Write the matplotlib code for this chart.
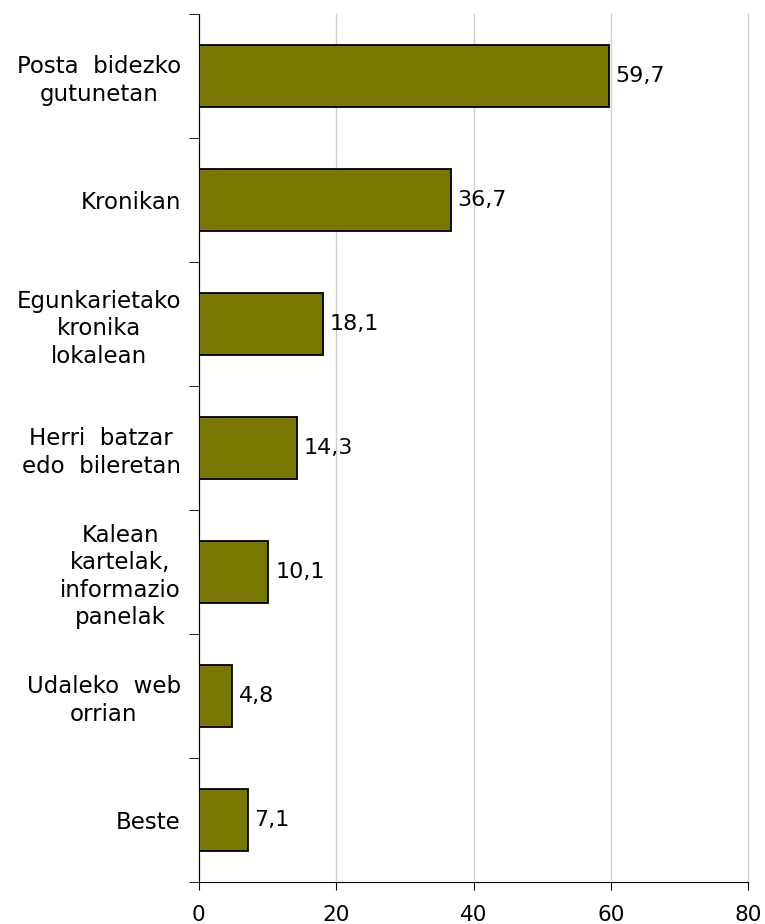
import matplotlib.pyplot as plt
from matplotlib.ticker import FixedLocator

categories = ["Posta  bidezko\ngutunetan", "Kronikan", "Egunkarietako\nkronika\nlokalean",
              "Herri  batzar\nedo  bileretan", "Kalean\nkartelak,\ninformazio\npanelak",
              "Udaleko  web\norrian", "Beste"]
values = [59.7, 36.7, 18.1, 14.3, 10.1, 4.8, 7.1]
xticks = [0, 20, 40, 60, 80]

fig = plt.figure(figsize=(7.65, 9.24), dpi=100)
ax = fig.add_axes([0.260, 0.0455, 0.718, 0.9395])

pos = list(range(len(categories)))
ax.barh(pos, values, height=0.5, color="#787800", edgecolor="black", linewidth=1.3, zorder=3)
for p, v in zip(pos, values):
    ax.text(v + 1.0, p, f"{v:.1f}".replace(".", ","), va="center", ha="left", fontsize=16)

ax.set_ylim(len(categories) - 0.5, -0.5)
ax.set_xlim(0, 80)
ax.set_yticks(pos)
ax.set_yticklabels(categories, fontsize=16.5, ha="right", multialignment="center",
                   linespacing=1.25)
ax.yaxis.set_minor_locator(FixedLocator([p - 0.5 for p in pos] + [len(pos) - 0.5]))
ax.tick_params(axis="y", which="major", length=0, pad=13)
ax.tick_params(axis="y", which="minor", length=7, direction="out")
ax.set_xticks(xticks)
ax.set_xticklabels([str(t) for t in xticks], fontsize=15.5)
ax.tick_params(axis="x", length=6, pad=10.5)

ax.grid(axis="x", color="#d0d0d0", linewidth=1, zorder=0)
for gl in ax.get_xgridlines():
    gl.set_clip_on(False)
for s in ["top", "right"]:
    ax.spines[s].set_visible(False)

fig.savefig("out.png", dpi=100)
